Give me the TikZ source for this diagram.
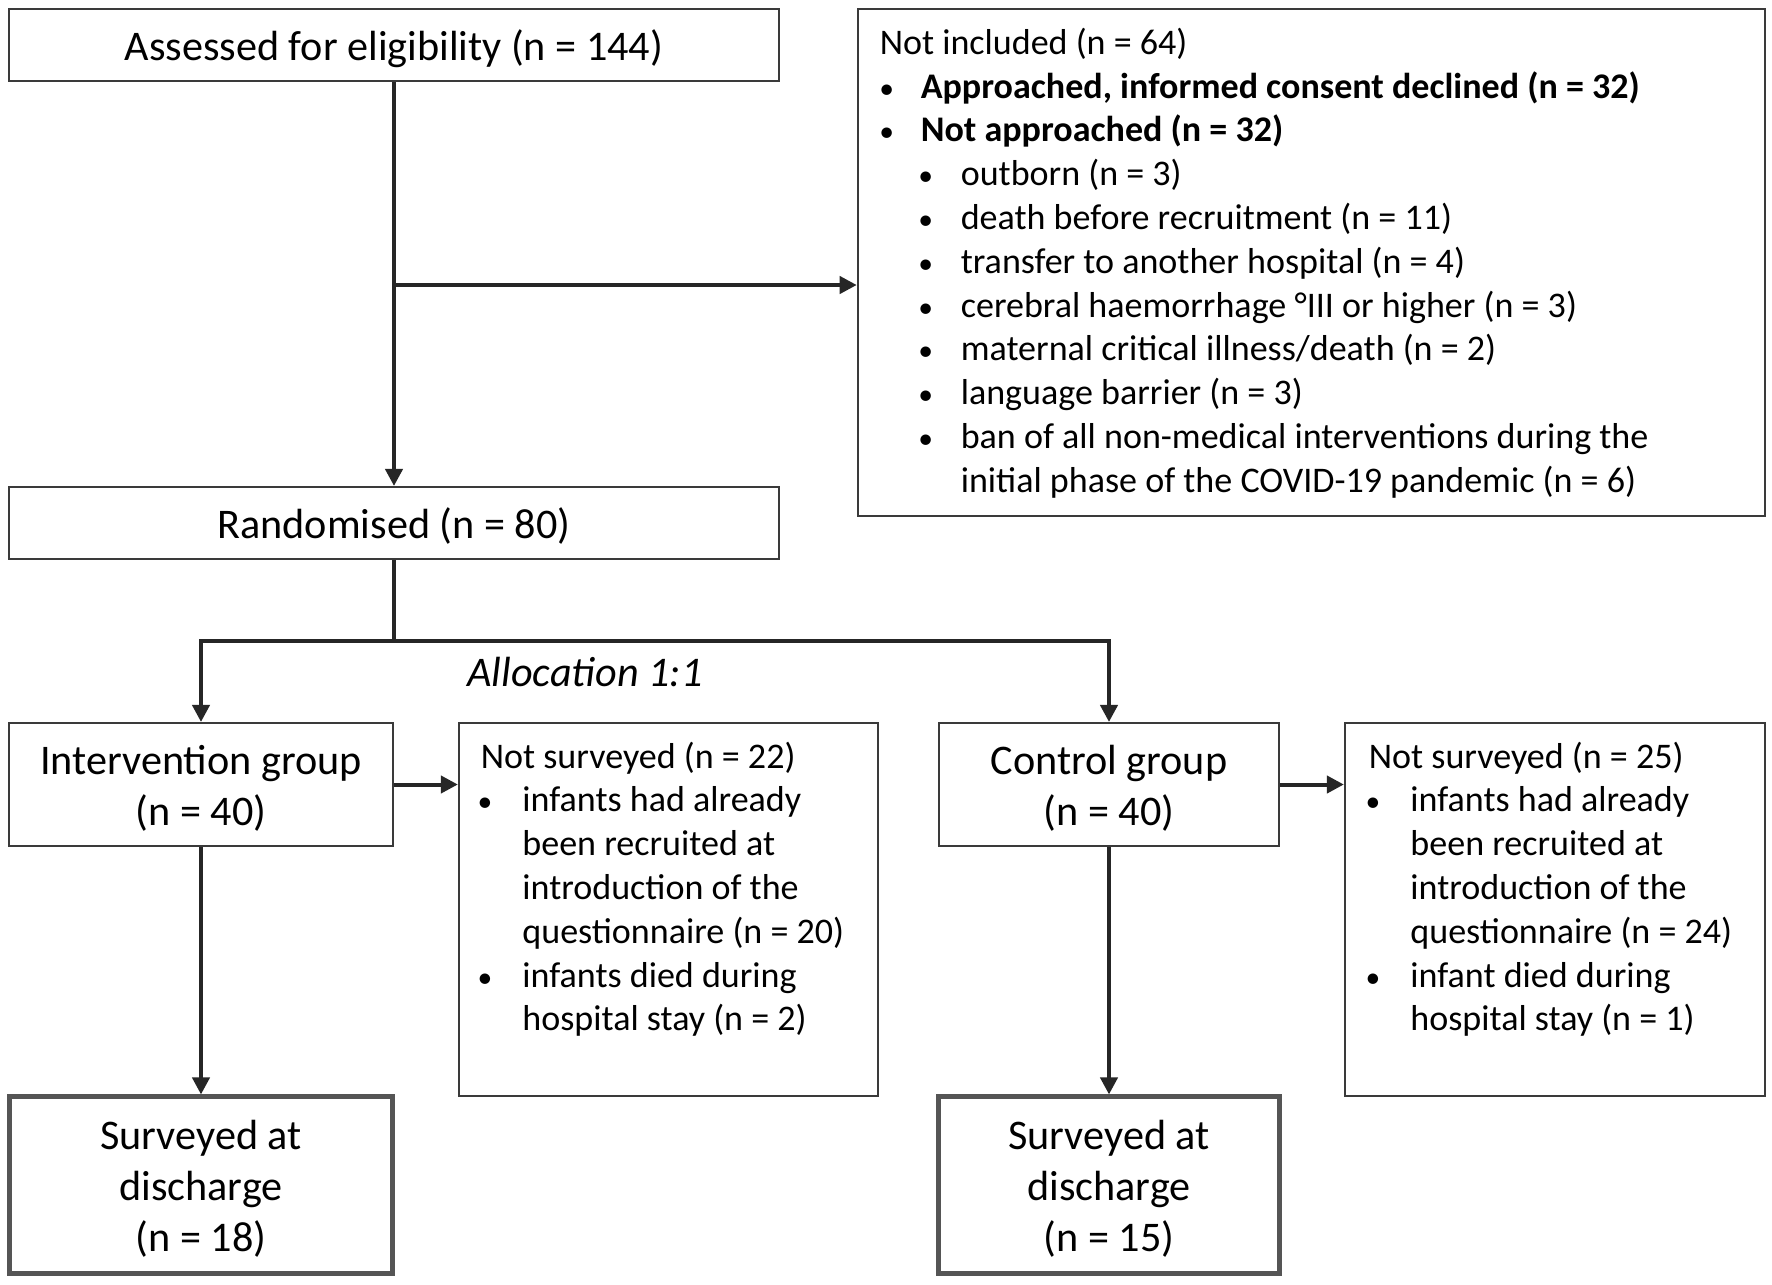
\documentclass[tikz,border=0pt]{standalone}
\usepackage{fontspec}
\setmainfont{Carlito}
\usetikzlibrary{arrows.meta}
\definecolor{connc}{HTML}{262626}
\definecolor{boxc}{HTML}{3A3A3A}
\definecolor{thickc}{HTML}{555555}
\newcommand\bigf{\fontsize{12}{14.6}\selectfont}
\newcommand\smallf{\fontsize{10.25}{12.45}\selectfont}
\newcommand\bdot{\makebox[0pt]{\scalebox{0.82}{•}}}
\newcommand\bulA{\leavevmode\rlap{\hspace{0.7mm}\bdot}\hspace*{4.1mm}}
\newcommand\bulB{\leavevmode\rlap{\hspace{4.6mm}\bdot}\hspace*{8.1mm}}
\newcommand\bulC{\leavevmode\rlap{\hspace{0.4mm}\bdot}\hspace*{4.15mm}}
\newcommand\btx[1]{\raisebox{-0.52mm}[\height][\depth]{\begin{tabular}{@{}c@{}}#1\end{tabular}}}
\begin{document}
\begin{tikzpicture}[x=0.01cm,y=-0.01cm,
  box/.style={draw=boxc, line width=0.57pt, inner sep=0pt, font=\bigf},
  endbox/.style={draw=thickc, line width=1.42pt, inner sep=0pt, font=\bigf},
  conn/.style={draw=connc, line width=1.14pt, -{Triangle[length=1.7mm,width=1.7mm]}},
  plain/.style={draw=connc, line width=1.14pt}]
\useasboundingbox (0,0) rectangle (1772,1284);
\fill[white] (0,0) rectangle (1772,1284);

\node[box, minimum width=7.70cm, minimum height=0.72cm] (assess) at (394,45) {\btx{Assessed for eligibility (n = 144)}};

\node[box, minimum width=9.07cm, minimum height=5.07cm] (notinc) at (1311.5,262.5) {\begin{minipage}[c][5.07cm][t]{9.07cm}\smallf\raggedright\leftskip=2.2mm
\rule{0pt}{4.55mm}Not included (n = 64)\\
\bulA\textbf{Approached, informed consent declined (n = 32)}\\
\bulA\textbf{Not approached (n = 32)}\\
\bulB outborn (n = 3)\\
\bulB death before recruitment (n = 11)\\
\bulB transfer to another hospital (n = 4)\\
\bulB cerebral haemorrhage °III or higher (n = 3)\\
\bulB maternal critical illness/death (n = 2)\\
\bulB language barrier (n = 3)\\
\bulB ban of all non-medical interventions during the\\
\hspace*{8.1mm}initial phase of the COVID-19 pandemic (n = 6)
\end{minipage}};

\node[box, minimum width=7.70cm, minimum height=0.72cm] (rand) at (394,523) {\btx{Randomised (n = 80)}};

\node[font=\bigf\itshape, inner sep=0pt] (alloc) at (585,672) {Allocation 1:1};

\node[box, minimum width=3.84cm, minimum height=1.23cm] (interv) at (201,784.5) {\btx{Intervention group\\(n = 40)}};

\node[box, minimum width=3.40cm, minimum height=1.23cm] (ctrl) at (1109,784.5) {\btx{Control group\\(n = 40)}};

\node[box, minimum width=4.19cm, minimum height=3.73cm] (ns1) at (668.5,909.5) {\begin{minipage}[c][3.73cm][t]{4.19cm}\smallf\raggedright\leftskip=2.2mm
\rule{0pt}{4.52mm}Not surveyed (n = 22)\\
\bulC infants had already\\
\hspace*{4.15mm}been recruited at\\
\hspace*{4.15mm}introduction of the\\
\hspace*{4.15mm}questionnaire (n = 20)\\
\bulC infants died during\\
\hspace*{4.15mm}hospital stay (n = 2)
\end{minipage}};

\node[box, minimum width=4.20cm, minimum height=3.73cm] (ns2) at (1555,909.5) {\begin{minipage}[c][3.73cm][t]{4.20cm}\smallf\raggedright\leftskip=2.4mm
\rule{0pt}{4.52mm}Not surveyed (n = 25)\\
\bulC infants had already\\
\hspace*{4.15mm}been recruited at\\
\hspace*{4.15mm}introduction of the\\
\hspace*{4.15mm}questionnaire (n = 24)\\
\bulC infant died during\\
\hspace*{4.15mm}hospital stay (n = 1)
\end{minipage}};

\node[endbox, minimum width=3.835cm, minimum height=1.76cm] (surv1) at (201,1185) {\btx{Surveyed at\\discharge\\(n = 18)}};
\node[endbox, minimum width=3.40cm, minimum height=1.76cm] (surv2) at (1109,1185) {\btx{Surveyed at\\discharge\\(n = 15)}};

\coordinate (br) at (394,285);
\coordinate (split) at (394,641);

\draw[conn] (assess.south) -- (rand.north);
\draw[conn] (br) -- (br -| notinc.west);
\draw[plain] (rand.south) -- (split);
\draw[conn] (split) -| (interv.north);
\draw[conn] (split) -| (ctrl.north);
\draw[conn] (interv.east) -- (interv.east -| ns1.west);
\draw[conn] (ctrl.east) -- (ctrl.east -| ns2.west);
\draw[conn] (interv.south) -- (surv1.north);
\draw[conn] (ctrl.south) -- (surv2.north);
\end{tikzpicture}
\end{document}
